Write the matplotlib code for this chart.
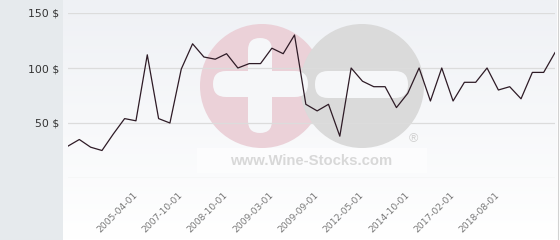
import numpy as np
import matplotlib
matplotlib.use('Agg')
from matplotlib import pyplot as plt
from matplotlib.patches import Circle, FancyBboxPatch, Rectangle
from matplotlib.colors import LinearSegmentedColormap

# price per bottle, one value per listed date
prices = [29, 35, 28, 25, 40, 54, 52, 112, 54, 50,
          99, 122, 110, 108, 113, 100, 104, 104, 118, 113,
          130, 67, 61, 67, 38, 100, 88, 83, 83, 64,
          77, 100, 70, 100, 70, 87, 87, 100, 80, 83,
          72, 96, 96, 114]
label_dates = ['2005-04-01', '2007-10-01', '2008-10-01', '2009-03-01', '2009-09-01',
               '2012-05-01', '2014-10-01', '2017-02-01', '2018-08-01']
label_index = [6, 10, 14, 18, 22, 26, 30, 34, 38]
y_ticks = [0, 50, 100, 150]
y_labels = ['', '50 $', '100 $', '150 $']

W, H = 560, 240
fig = plt.figure(figsize=(W / 100, H / 100), dpi=100)


def box(x0, y0, x1, y1):
    # pixel box (y from top) -> figure fraction rect
    return [x0 / W, 1 - y1 / H, (x1 - x0) / W, (y1 - y0) / H]


# background, left strip and watermark
bg = fig.add_axes([0, 0, 1, 1], zorder=0)
cmap = LinearSegmentedColormap.from_list('bg', ['#eff1f5', '#ffffff'])
bg.imshow(np.linspace(0, 1, 100)[:, None], extent=(63, 557, H, 0), cmap=cmap, aspect='auto')
bg.add_patch(Rectangle((0, 0), 63, H, fc='#e6eaed', ec='none'))
bg.plot([557.5, 557.5], [0, H], color='#d2d2d2', lw=0.8)

hole = '#f6f7f9'
bg.add_patch(Circle((262, 86), 62, fc='#ebd1d8', ec='none'))
bg.add_patch(Circle((362, 86), 62, fc='#dadada', ec='none'))
bg.add_patch(FancyBboxPatch((248, 38), 24, 95, boxstyle='round,pad=0,rounding_size=12', fc=hole, ec='none'))
bg.add_patch(FancyBboxPatch((213, 71), 95, 26, boxstyle='round,pad=0,rounding_size=13', fc=hole, ec='none'))
bg.add_patch(FancyBboxPatch((315, 71), 93, 27, boxstyle='round,pad=0,rounding_size=13', fc=hole, ec='none'))
bg.add_patch(Rectangle((197, 148), 230, 25, fc='white', ec='none', alpha=0.6))
bg.text(311.5, 161, 'www.Wine-Stocks.com', fontsize=10.7, fontweight='bold',
        family='Liberation Sans', color='#d8d8d8', ha='center', va='center')
bg.text(413, 139, '\u00ae', fontsize=9, family='Liberation Sans', color='#cfcfcf',
        ha='center', va='center')
bg.set_xlim(0, W)
bg.set_ylim(H, 0)
bg.axis('off')

# main chart
ax = fig.add_axes(box(68, 13, 555, 178), zorder=2)
ax.set_facecolor('none')
ax.plot(range(len(prices)), prices, color='#2e1b26', lw=0.9, zorder=3)
ax.set_xlim(0, len(prices) - 1)
ax.set_ylim(0, 150)
for s in ax.spines.values():
    s.set_visible(False)

ax.set_yticks(y_ticks)
ax.set_yticklabels(y_labels)
ax.yaxis.grid(True, color='#dcdcdc', lw=0.9)
ax.tick_params(axis='y', length=0, pad=6.5, labelsize=7.8, labelcolor='#333333')

ax.set_xticks(label_index)
ax.set_xticklabels(label_dates, rotation=45, ha='right', va='center', rotation_mode='anchor')
ax.tick_params(axis='x', length=0, pad=11, labelsize=6.6, labelcolor='#777777')

plt.savefig('out.png', dpi=100)
plt.close(fig)
